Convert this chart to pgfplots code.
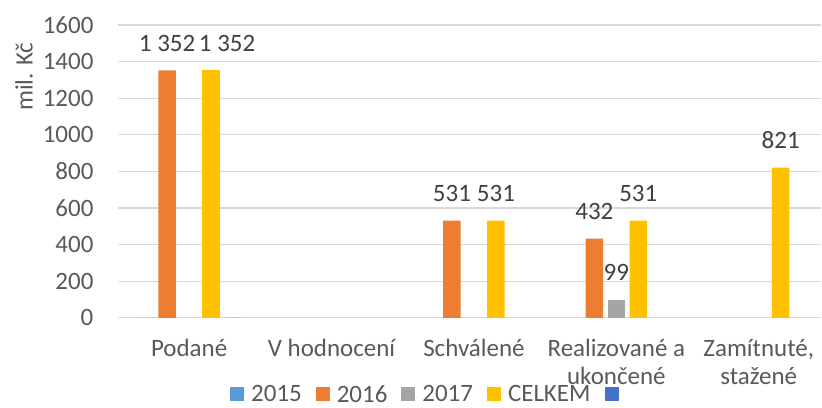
\documentclass[border=0pt]{standalone}
\usepackage{pgfplots}
\pgfplotsset{compat=1.18}
\usepackage{fontspec}
\setmainfont{Carlito}
\definecolor{c2015}{HTML}{5B9BD5}
\definecolor{c2016}{HTML}{ED7D31}
\definecolor{c2017}{HTML}{A5A5A5}
\definecolor{cCelk}{HTML}{FFC000}
\definecolor{cBlue}{HTML}{4472C4}
\definecolor{gridc}{HTML}{D9D9D9}
\definecolor{tickc}{HTML}{595959}
\definecolor{labc}{HTML}{404040}
\newcommand{\cf}{\fontsize{25bp}{28bp}\selectfont}
\begin{document}
\begin{tikzpicture}
\begin{axis}[
  scale only axis, width=704bp, height=293bp,
  at={(0,0)}, anchor=south west,
  ybar=4.5bp, bar width=17.5bp,
  xmin=-0.5, xmax=4.44, ymin=0, ymax=1600,
  ytick={0,200,...,1600},
  xtick={0,1,2,3,4},
  xticklabels={Podané,V hodnocení,Schválené,{Realizované a\\ukončené},{Zamítnuté,\\stažené}},
  xticklabel style={align=center, text=tickc, font=\cf, yshift=-18bp},
  yticklabel style={text=tickc, font=\cf, xshift=-21bp},
  /pgf/number format/assume math mode=true,
  /pgf/number format/1000 sep={},
  ymajorgrids, grid style={gridc, line width=1.2bp},
  axis line style={draw=none},
  major tick length=0pt,
  ylabel={mil. Kč},
  ylabel style={at={(axis description cs:-0.1335,0.823)}, anchor=center, text=tickc, font=\cf},
  legend columns=5,
  legend style={at={(axis description cs:0.442,-0.262)}, anchor=center, draw=none, fill=none,
    font=\cf, text=tickc, inner sep=0pt,
    /tikz/every odd column/.append style={column sep=5bp},
    /tikz/every even column/.append style={column sep=12bp}},
  legend image code/.code={\fill[#1] (0bp,-7bp) rectangle (14bp,7bp);},
  point meta=explicit symbolic,
  every node near coord/.append style={text=labc, font=\cf, inner sep=0pt, yshift=18.5bp},
]
\addplot[fill=c2015, draw=none] coordinates {(0,0) [ ]};
\addplot[fill=c2016, draw=none, nodes near coords] coordinates {(0,1352) [1 352] (2,531) [531] (3,432) [432]};
\addplot[fill=c2017, draw=none, nodes near coords] coordinates {(3,99) [99]};
\addplot[fill=cCelk, draw=none, nodes near coords] coordinates {(2,531) [531] (3,531) [531] (4,821) [821]};
\addplot[fill=cBlue, draw=none] coordinates {(0,0) [ ]};
\addplot[fill=cCelk, draw=none, forget plot, bar shift=22bp, nodes near coords,
  every node near coord/.append style={xshift=16bp}] coordinates {(0,1352) [1 352]};
\legend{2015,2016,2017,CELKEM,\strut}
\end{axis}
\path[use as bounding box] (-118bp,-87bp) rectangle (704bp,318bp);
\end{tikzpicture}
\end{document}
